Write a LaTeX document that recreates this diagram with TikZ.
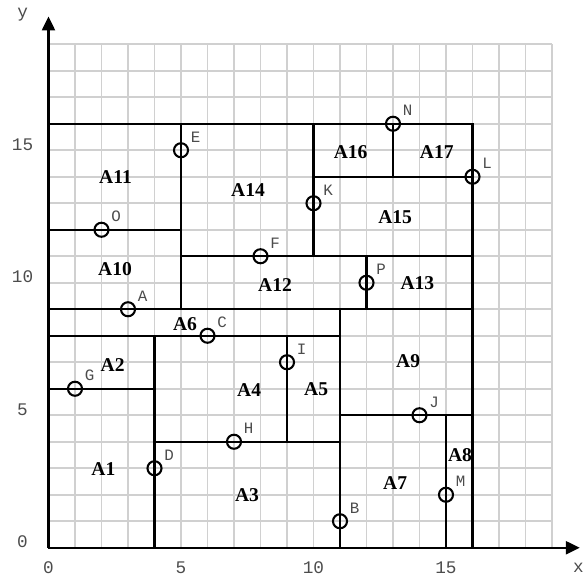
\documentclass[tikz,border=0pt]{standalone}
\usepackage{fontspec}
\setmainfont{Liberation Serif}
\newfontfamily\cour{Liberation Mono}
\usepackage{tikz}
\usetikzlibrary{arrows.meta}
\definecolor{gridgray}{HTML}{D0D0D0}
\tikzset{
  gl/.style={draw=gridgray, line width=2pt},                          % grid line
  ax/.style={draw=black, line width=2.2pt, -{Triangle[length=15pt, width=14pt]}},
  sl/.style={draw=black, line width=2.2pt, line cap=rect},            % split line
  pt/.style={circle, draw=black, line width=2.2pt, minimum size=5.3mm, inner sep=0pt},
  plab/.style={font=\cour\fontsize{17}{19}\selectfont, text=black!70, inner sep=0pt},
  tick/.style={font=\cour\fontsize{19}{21}\selectfont, text=black!70, inner sep=0pt},
  area/.style={font=\fontsize{21}{24}\selectfont\bfseries, inner sep=0pt},
}
\begin{document}
\begin{tikzpicture}
  \useasboundingbox (-1.83,-1.11) rectangle (20.17,20.67);
  \draw[gl] (0,0) grid (19,19);
  % splitting lines
  \foreach \xa/\ya/\xb/\yb in {0/16/16/16,16/0/16/16,0/9/16/9,5/9/5/16,0/12/5/12,
                               5/11/16/11,10/11/10/16,10/14/16/14,13/14/13/16,
                               12/9/12/11,11/0/11/9,0/8/11/8,4/0/4/8,0/6/4/6,
                               4/4/11/4,9/4/9/8,11/5/16/5,15/0/15/5}
    \draw[sl] (\xa,\ya)--(\xb,\yb);
  \draw[ax] (0,0)--(20.05,0);
  \draw[ax] (0,0)--(0,20.05);
  \node[tick] (xl) at (20,-0.77) {x};
  \node[tick] (yl) at (-0.97,20.1) {y};
  \foreach \v in {0,5,10,15} {
    \node[tick] at (\v,-0.75) {\v};
    \node[tick] at (-0.98,\v+0.22) {\v};
  }
  % points
  \foreach \n/\x/\y in {A/3/9,B/11/1,C/6/8,D/4/3,E/5/15,F/8/11,G/1/6,H/7/4,
                        I/9/7,J/14/5,K/10/13,L/16/14,M/15/2,N/13/16,O/2/12,P/12/10} {
    \node[pt] (\n) at (\x,\y) {};
    \node[plab] at (\x+0.55,\y+0.5) {\n};
  }
  % areas
  \node[area] (a1)  at (2.07,2.96)  {A1};
  \node[area] (a2)  at (2.42,6.9)   {A2};
  \node[area] (a3)  at (7.49,1.99)  {A3};
  \node[area] (a4)  at (7.57,5.95)  {A4};
  \node[area] (a5)  at (10.1,5.99)  {A5};
  \node[area] (a6)  at (5.15,8.44)  {A6};
  \node[area] (a7)  at (13.08,2.43) {A7};
  \node[area] (a8)  at (15.53,3.5)  {A8};
  \node[area] (a9)  at (13.57,7.04) {A9};
  \node[area] (a10) at (2.51,10.5)  {A10};
  \node[area] (a11) at (2.53,14.0)  {A11};
  \node[area] (a12) at (8.55,9.91)  {A12};
  \node[area] (a13) at (13.92,10.0) {A13};
  \node[area] (a14) at (7.53,13.49) {A14};
  \node[area] (a15) at (13.08,12.49) {A15};
  \node[area] (a16) at (11.4,14.94) {A16};
  \node[area] (a17) at (14.65,14.94) {A17};
\end{tikzpicture}
\end{document}
